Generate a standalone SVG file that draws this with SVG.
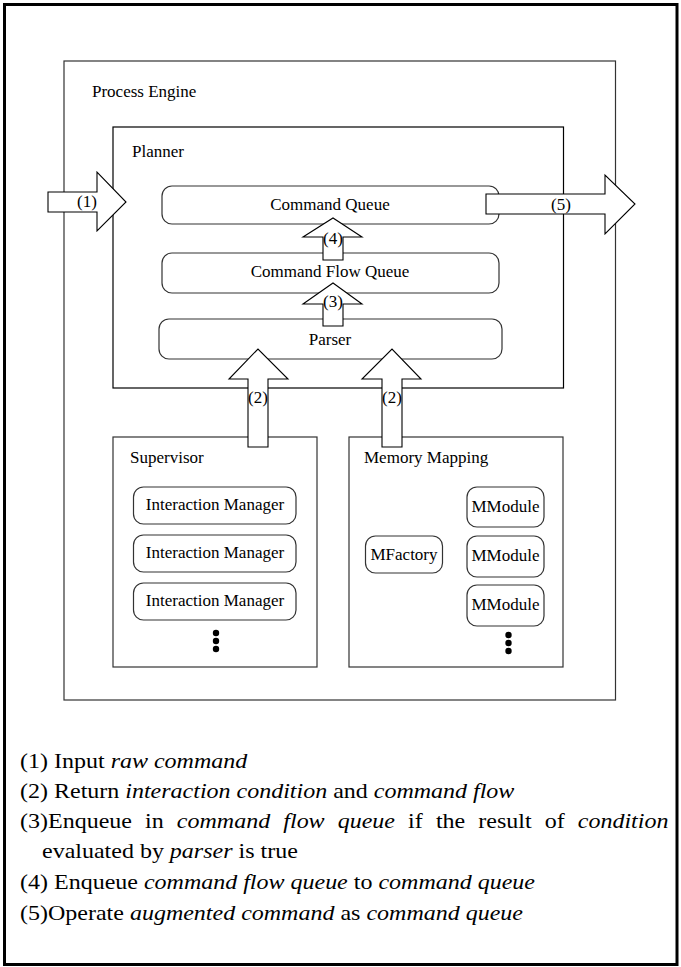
<svg xmlns="http://www.w3.org/2000/svg" width="681" height="967" viewBox="0 0 681 967">
<style>
.box{fill:none;stroke:#333;stroke-width:1.2}
.rbox{fill:#fff;stroke:#333;stroke-width:1.2}
.arrow{fill:#fff;stroke:#000;stroke-width:1.1;stroke-linejoin:miter}
.lbl{font-family:"Liberation Serif","Times New Roman",serif;font-size:17px;fill:#000}
.mid{text-anchor:middle}
.leg{font-family:"Liberation Serif","Times New Roman",serif;font-size:20px;fill:#000}
.it{font-style:italic}
.dot{fill:#000}
</style>
<rect width="681" height="967" fill="#fff"/>
<rect id="frame" x="4.5" y="4.5" width="672.5" height="960" fill="none" stroke="#000" stroke-width="3"/>

<g id="process-engine">
<rect class="box" x="64" y="61" width="551.5" height="639"/>
<text class="lbl" x="92" y="97">Process Engine</text>
</g>
<g id="planner">
<rect class="box" x="113" y="127" width="450.5" height="261" style="stroke:#000"/>
<text class="lbl" x="132" y="157">Planner</text>
</g>
<g id="command-queue">
<rect class="rbox" x="162" y="186" width="337" height="38" rx="10"/>
<text class="lbl mid" x="330" y="210">Command Queue</text>
</g>
<g id="command-flow-queue">
<rect class="rbox" x="162" y="253" width="337" height="40" rx="10"/>
<text class="lbl mid" x="330" y="277">Command Flow Queue</text>
</g>
<g id="parser">
<rect class="rbox" x="159" y="319" width="343" height="40" rx="10"/>
<text class="lbl mid" x="330" y="345">Parser</text>
</g>
<g id="supervisor">
<rect class="box" x="113" y="437" width="204" height="230"/>
<text class="lbl" x="130" y="463">Supervisor</text>
<circle class="dot" cx="216" cy="633" r="3.2"/>
<circle class="dot" cx="216" cy="641" r="3.2"/>
<circle class="dot" cx="216" cy="649" r="3.2"/>
</g>
<g id="interaction-manager-1">
<rect class="rbox" x="133.5" y="487" width="162.5" height="37" rx="10"/>
<text class="lbl mid" x="215" y="510">Interaction Manager</text>
</g>
<g id="interaction-manager-2">
<rect class="rbox" x="133.5" y="535" width="162.5" height="37" rx="10"/>
<text class="lbl mid" x="215" y="558">Interaction Manager</text>
</g>
<g id="interaction-manager-3">
<rect class="rbox" x="133.5" y="583" width="162.5" height="37" rx="10"/>
<text class="lbl mid" x="215" y="606">Interaction Manager</text>
</g>
<g id="memory-mapping">
<rect class="box" x="349" y="437" width="214" height="230"/>
<text class="lbl" x="364" y="463">Memory Mapping</text>
<circle class="dot" cx="508.5" cy="635" r="3.2"/>
<circle class="dot" cx="508.5" cy="643" r="3.2"/>
<circle class="dot" cx="508.5" cy="651" r="3.2"/>
</g>
<g id="mfactory">
<rect class="rbox" x="365.5" y="536" width="77" height="37" rx="10"/>
<text class="lbl mid" x="404" y="560">MFactory</text>
</g>
<g id="mmodule-1">
<rect class="rbox" x="467" y="487" width="77" height="40" rx="10"/>
<text class="lbl mid" x="505.5" y="512">MModule</text>
</g>
<g id="mmodule-2">
<rect class="rbox" x="467" y="536" width="77" height="41" rx="10"/>
<text class="lbl mid" x="505.5" y="561">MModule</text>
</g>
<g id="mmodule-3">
<rect class="rbox" x="467" y="585" width="77" height="41" rx="10"/>
<text class="lbl mid" x="505.5" y="610">MModule</text>
</g>

<g id="connectors">
<g id="arrow-1">
<polygon class="arrow" points="48,192 97,192 97,172 126,202 97,231 97,212 48,212"/>
<text class="lbl mid" x="87" y="207">(1)</text>
</g>
<g id="arrow-5">
<polygon class="arrow" points="486,194 605,194 605,175 635,204 605,234 605,214 486,214"/>
<text class="lbl mid" x="561" y="210">(5)</text>
</g>
<g id="arrow-4">
<polygon class="arrow" points="323,260 323,237 303,237 333,218 362,237 343,237 343,260"/>
<text class="lbl mid" x="333" y="244">(4)</text>
</g>
<g id="arrow-3">
<polygon class="arrow" points="323,326 323,304 303,304 333,283 362,304 343,304 343,326"/>
<text class="lbl mid" x="333" y="307">(3)</text>
</g>
<g id="arrow-2a">
<polygon class="arrow" points="248,447 248,379 229,379 258,349 288,379 268,379 268,447"/>
<text class="lbl mid" x="258" y="403">(2)</text>
</g>
<g id="arrow-2b">
<polygon class="arrow" points="382,447 382,379 362,379 392,349 421,379 402,379 402,447"/>
<text class="lbl mid" x="392" y="403">(2)</text>
</g>
</g>

<g id="legend" transform="scale(1.2,1)">
<text class="leg" x="16.7" y="768">(1) Input <tspan class="it">raw command</tspan></text>
<text class="leg" x="16.7" y="798">(2) Return <tspan class="it">interaction condition</tspan> and <tspan class="it">command flow</tspan></text>
<text class="leg" y="828"><tspan x="16.7">(3)Enqueue</tspan><tspan x="120.9">in</tspan><tspan class="it" x="147.4">command</tspan><tspan class="it" x="236.1">flow</tspan><tspan class="it" x="281.4">queue</tspan><tspan x="340.1">if</tspan><tspan x="363.3">the</tspan><tspan x="398.6">result</tspan><tspan x="453.9">of</tspan><tspan class="it" x="481.5">condition</tspan></text>
<text class="leg" x="35" y="858">evaluated by <tspan class="it">parser</tspan> is true</text>
<text class="leg" x="16.7" y="889">(4) Enqueue <tspan class="it">command flow queue</tspan> to <tspan class="it">command queue</tspan></text>
<text class="leg" x="16.7" y="920">(5)Operate <tspan class="it">augmented command</tspan> as <tspan class="it">command queue</tspan></text>
</g>
</svg>
